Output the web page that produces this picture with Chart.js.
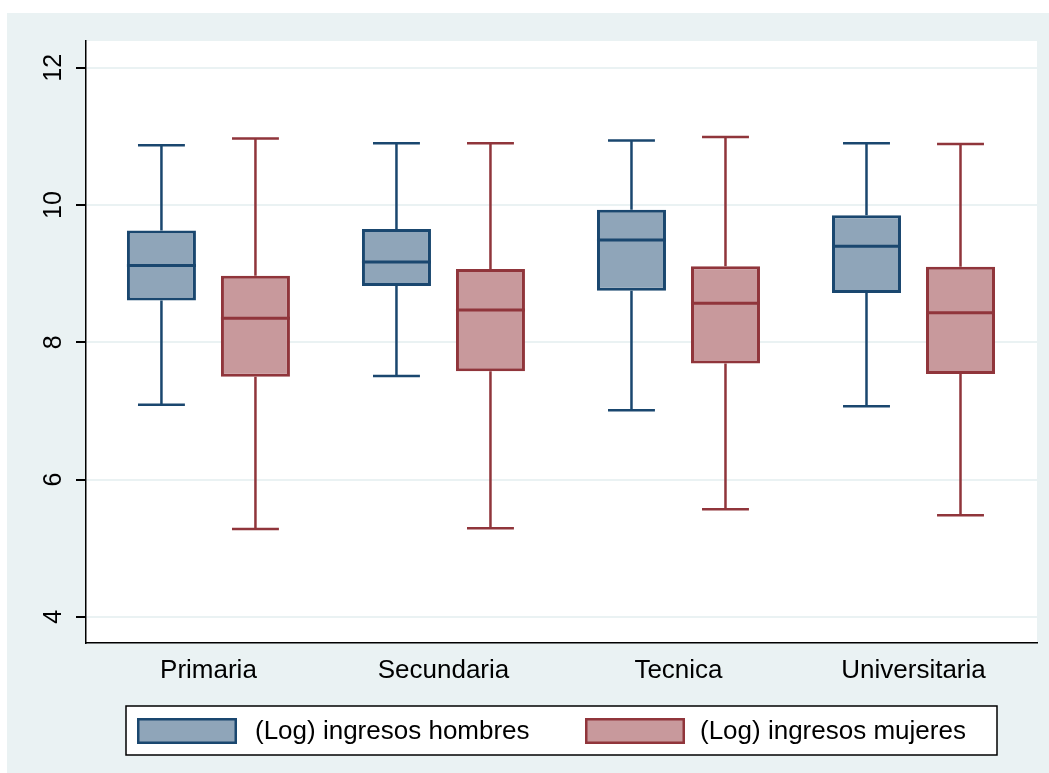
<!DOCTYPE html>
<html>
<head>
<meta charset="utf-8">
<title>Ingresos por nivel educativo</title>
<script src="https://cdn.jsdelivr.net/npm/chart.js@4.4.1/dist/chart.umd.min.js"></script>
<style>
  html, body { margin: 0; padding: 0; background: #ffffff; }
  canvas { display: block; }
</style>
</head>
<body>
<canvas id="chart" width="1049" height="773" style="width:1049px;height:773px"></canvas>
<script>
// Education levels on the horizontal axis
const categories = ['Primaria', 'Secundaria', 'Tecnica', 'Universitaria'];
const seriesNames = ['(Log) ingresos hombres', '(Log) ingresos mujeres'];

// Five-number summaries of log income, men
const hombresMin = [7.09, 7.51, 7.01, 7.07];
const hombresQ1  = [8.61, 8.82, 8.75, 8.72];
const hombresMed = [9.12, 9.17, 9.49, 9.40];
const hombresQ3  = [9.63, 9.65, 9.93, 9.85];
const hombresMax = [10.87, 10.90, 10.94, 10.90];

// Five-number summaries of log income, women
const mujeresMin = [5.28, 5.29, 5.57, 5.48];
const mujeresQ1  = [7.50, 7.58, 7.69, 7.54];
const mujeresMed = [8.35, 8.47, 8.57, 8.43];
const mujeresQ3  = [8.97, 9.07, 9.11, 9.10];
const mujeresMax = [10.97, 10.90, 10.99, 10.89];

// Value axis ticks
const yTicks = [4, 6, 8, 10, 12];

const NAVY = '#1a476f', NAVY_FILL = '#8fa5b9';
const MAROON = '#90353b', MAROON_FILL = '#c8999c';
const BG = '#eaf2f3';
const FONT = '"Liberation Sans", Arial, Helvetica, sans-serif';

const boxData = (q1, q3) => q1.map((v, i) => ({ x: i, y: [v, q3[i]] }));

const summaries = [
  { min: hombresMin, med: hombresMed, max: hombresMax },
  { min: mujeresMin, med: mujeresMed, max: mujeresMax }
];

// Graph region and plot region backgrounds
const backgroundPlugin = {
  id: 'regions',
  beforeDraw(chart) {
    const { ctx, chartArea: a } = chart;
    ctx.save();
    ctx.fillStyle = BG;
    ctx.fillRect(7, 13, chart.width - 7, chart.height - 13);
    ctx.fillStyle = '#ffffff';
    ctx.fillRect(a.left, a.top, a.right - a.left, a.bottom - a.top);
    ctx.restore();
  }
};

// Whiskers, caps and median lines on top of the interquartile bars
const whiskerPlugin = {
  id: 'whiskers',
  afterDatasetsDraw(chart) {
    const { ctx } = chart;
    const y = chart.scales.y;
    chart.data.datasets.forEach((ds, di) => {
      const meta = chart.getDatasetMeta(di);
      const s = summaries[di];
      ctx.save();
      ctx.strokeStyle = ds.borderColor;
      ctx.lineCap = 'butt';
      meta.data.forEach((bar, i) => {
        const w = bar.width;
        const cx = bar.x;
        const pMin = y.getPixelForValue(s.min[i]);
        const pMax = y.getPixelForValue(s.max[i]);
        const pMed = y.getPixelForValue(s.med[i]);
        const top = Math.min(bar.y, bar.base);
        const bottom = Math.max(bar.y, bar.base);
        const cap = w * 0.68;
        ctx.lineWidth = 2.5;
        ctx.beginPath();
        ctx.moveTo(cx, top); ctx.lineTo(cx, pMax);
        ctx.moveTo(cx, bottom); ctx.lineTo(cx, pMin);
        ctx.moveTo(cx - cap / 2, pMax); ctx.lineTo(cx + cap / 2, pMax);
        ctx.moveTo(cx - cap / 2, pMin); ctx.lineTo(cx + cap / 2, pMin);
        ctx.stroke();
        ctx.lineWidth = 3;
        ctx.beginPath();
        ctx.moveTo(cx - w / 2, pMed); ctx.lineTo(cx + w / 2, pMed);
        ctx.stroke();
      });
      ctx.restore();
    });
  }
};

// Framed legend below the category labels
const legendPlugin = {
  id: 'framedLegend',
  afterDraw(chart) {
    const { ctx, chartArea: a } = chart;
    const cx = (a.left + a.right) / 2;
    const boxL = cx - 435.5, boxR = cx + 435.5, boxT = 706, boxB = 755;
    ctx.save();
    ctx.fillStyle = '#ffffff';
    ctx.fillRect(boxL, boxT, boxR - boxL, boxB - boxT);
    ctx.strokeStyle = '#000000';
    ctx.lineWidth = 1.5;
    ctx.strokeRect(boxL, boxT, boxR - boxL, boxB - boxT);
    const offsets = [{ sw: 11, tx: 129 }, { sw: 459, tx: 574 }];
    ctx.font = '26px ' + FONT;
    ctx.textBaseline = 'middle';
    ctx.textAlign = 'left';
    chart.data.datasets.forEach((ds, i) => {
      const sx = boxL + offsets[i].sw;
      ctx.fillStyle = ds.backgroundColor;
      ctx.fillRect(sx, 718, 100, 26);
      ctx.strokeStyle = ds.borderColor;
      ctx.lineWidth = 2.5;
      ctx.strokeRect(sx + 1.25, 719.25, 97.5, 23.5);
      ctx.fillStyle = '#000000';
      ctx.fillText(ds.label, boxL + offsets[i].tx, 732);
    });
    ctx.restore();
  }
};

new Chart(document.getElementById('chart'), {
  type: 'bar',
  data: {
    datasets: [
      {
        label: seriesNames[0],
        data: boxData(hombresQ1, hombresQ3),
        backgroundColor: NAVY_FILL,
        borderColor: NAVY,
        borderWidth: 3,
        borderSkipped: false
      },
      {
        label: seriesNames[1],
        data: boxData(mujeresQ1, mujeresQ3),
        backgroundColor: MAROON_FILL,
        borderColor: MAROON,
        borderWidth: 3,
        borderSkipped: false
      }
    ]
  },
  options: {
    responsive: false,
    animation: false,
    categoryPercentage: 0.8,
    barPercentage: 0.734,
    layout: { padding: { left: 7, top: 41, right: 12, bottom: 80 } },
    plugins: {
      legend: { display: false },
      tooltip: { enabled: false }
    },
    scales: {
      x: {
        type: 'linear',
        offset: false,
        min: -0.521,
        max: 3.5255,
        afterBuildTicks(scale) { scale.ticks = categories.map((_, i) => ({ value: i })); },
        afterFit(scale) { scale.height = 50; },
        grid: { display: false, drawTicks: false },
        border: { display: true, color: '#000000', width: 1.5 },
        ticks: {
          autoSkip: false,
          maxRotation: 0,
          padding: 12,
          color: '#000000',
          font: { family: FONT, size: 26 },
          callback: (v) => categories[v]
        }
      },
      y: {
        type: 'linear',
        min: 3.62,
        max: 12.39,
        afterBuildTicks(scale) { scale.ticks = yTicks.map(v => ({ value: v })); },
        afterFit(scale) { scale.width = 79; },
        grid: {
          color: BG,
          lineWidth: 2,
          tickColor: '#000000',
          tickLength: 10,
          drawTicks: true
        },
        border: { display: true, color: '#000000', width: 1.5 },
        ticks: {
          minRotation: 90,
          maxRotation: 90,
          crossAlign: 'center',
          padding: 8,
          color: '#000000',
          font: { family: FONT, size: 25 }
        }
      }
    }
  },
  plugins: [backgroundPlugin, whiskerPlugin, legendPlugin]
});
</script>
</body>
</html>
